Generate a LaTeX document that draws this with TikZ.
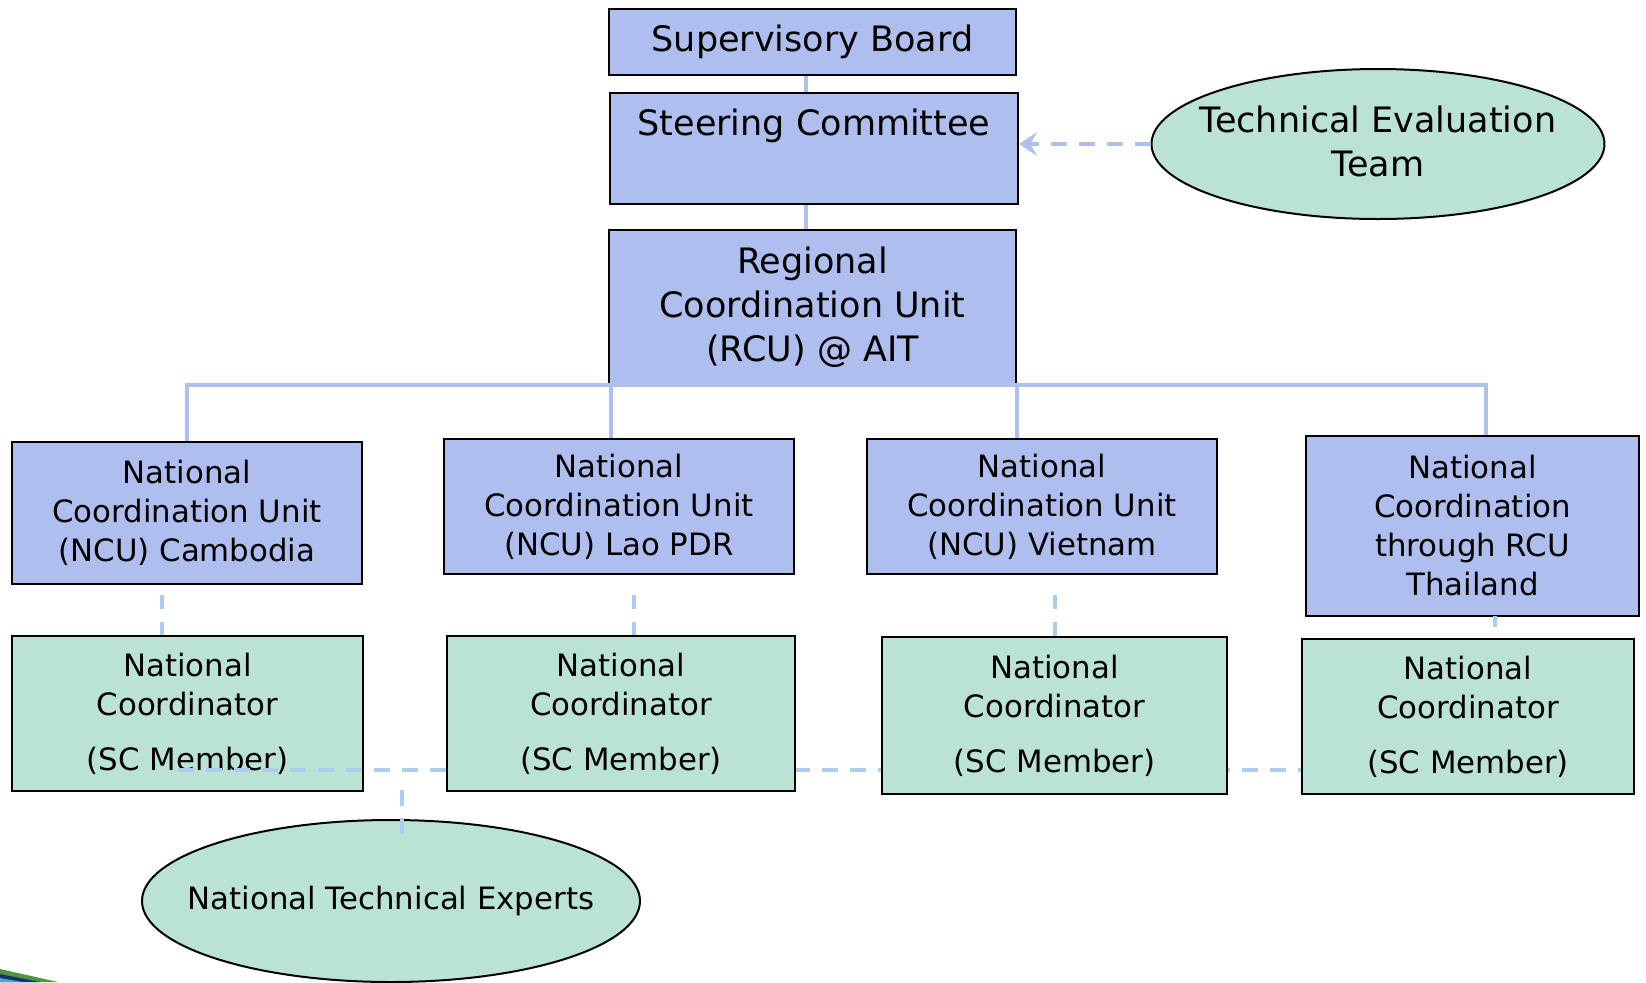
\documentclass[tikz,border=0pt]{standalone}
\usepackage{fontspec}
\setmainfont{DejaVu Sans}
\usetikzlibrary{shapes.geometric,arrows.meta}
\pgfdeclarelayer{background}
\pgfsetlayers{background,main}
\definecolor{boxblue}{RGB}{174,191,239}
\definecolor{boxgreen}{RGB}{186,227,214}
\definecolor{connblue}{RGB}{174,192,238}
\definecolor{dashblue}{RGB}{172,205,238}
\definecolor{swgreen}{RGB}{80,150,60}
\definecolor{swdark}{RGB}{20,50,110}
\definecolor{swlight}{RGB}{90,160,210}
\newcommand{\bigf}{\fontsize{17.5}{22}\selectfont}
\newcommand{\smf}{\fontsize{15.4}{19.5}\selectfont}
\tikzset{
  bluebox/.style={draw=black, line width=1.1pt, fill=boxblue, rectangle, inner sep=0pt, align=center},
  greenbox/.style={draw=black, line width=1.1pt, fill=boxgreen, rectangle, inner sep=0pt, align=center, font=\smf},
  greenell/.style={draw=black, line width=1pt, fill=boxgreen, ellipse, inner sep=0pt},
  conn/.style={draw=connblue, line width=1.8pt},
  dconn/.style={draw=dashblue, line width=1.6pt, dash pattern=on 7pt off 6.5pt},
  hdash/.style={draw=dashblue, line width=1.9pt, dash pattern=on 8pt off 6pt},
  arr/.style={draw=connblue, line width=2pt, dash pattern=on 8pt off 6pt, -{Stealth[length=9pt,width=12pt,inset=3.5pt]}},
}
\begin{document}
\begin{tikzpicture}[x=0.5pt,y=-0.5pt]
\useasboundingbox (0,0) rectangle (1646,982);
% top chain
\node[bluebox, font=\bigf, minimum width=203.5pt, minimum height=33pt] (sb) at (812.5,42) {Supervisory Board};
\node[bluebox, minimum width=204pt, minimum height=55.5pt,
      label={[font=\bigf, anchor=center, yshift=-17pt]north:Steering Committee}] (sc) at (814,148.5) {};
\node[bluebox, font=\bigf, minimum width=203.5pt, minimum height=77pt] (rcu) at (812.5,307) {Regional\\Coordination Unit\\(RCU) @ AIT};
\node[greenell, minimum width=226.5pt, minimum height=75pt,
      label={[font=\bigf, align=center, anchor=center, yshift=1.5pt]center:Technical Evaluation\\Team}] (tet) at (1378,144) {};
% national coordination units
\node[bluebox, font=\smf, minimum width=175pt, minimum height=71pt] (cam) at (187,513) {National\\Coordination Unit\\(NCU) Cambodia};
\node[bluebox, font=\smf, minimum width=175pt, minimum height=67.5pt] (lao) at (619,506.5) {National\\Coordination Unit\\(NCU) Lao PDR};
\node[bluebox, font=\smf, minimum width=175pt, minimum height=67.5pt] (vn) at (1042,506.5) {National\\Coordination Unit\\(NCU) Vietnam};
\node[bluebox, font=\smf, minimum width=166.5pt, minimum height=90pt] (th) at (1472.5,526) {National\\Coordination\\through RCU\\Thailand};
% national coordinators
\node[greenbox, minimum width=175.5pt, minimum height=77.5pt] (ncC) at (187.5,713.5) {National\\Coordinator\\[8pt](SC Member)};
\node[greenbox, minimum width=174pt, minimum height=77.5pt] (ncL) at (621,713.5) {National\\Coordinator\\[8pt](SC Member)};
\node[greenbox, minimum width=172.5pt, minimum height=78.5pt] (ncV) at (1054.5,715.5) {National\\Coordinator\\[8pt](SC Member)};
\node[greenbox, minimum width=166pt, minimum height=77.5pt] (ncT) at (1468,716.5) {National\\Coordinator\\[8pt](SC Member)};
\node[greenell, minimum width=249pt, minimum height=81pt,
      label={[font=\smf, anchor=center]center:National Technical Experts}] (nte) at (391,901) {};
% solid connectors
\draw[conn] ([xshift=-3.25pt]sb.south) -- ([xshift=-3.25pt]sb.south |- sc.north);
\draw[conn] ([xshift=-4pt]sc.south) -- ([xshift=-4pt]sc.south |- rcu.north);
\coordinate (busL) at (187,385);
\coordinate (busR) at (1486,385);
\draw[conn] (cam.north) -- (busL) -- (busR) -- (busR |- th.north);
\draw[conn] ([xshift=1.5pt]rcu.south west) -- ([xshift=1.5pt]rcu.south west |- lao.north);
\draw[conn] (rcu.south east) -- (rcu.south east |- vn.north);
% arrow from evaluation team
\draw[arr] (tet.west) -- (tet.west -| sc.east);
% dashed connectors NCU -> coordinators
\coordinate (dC) at (162,595);
\coordinate (dL) at (634,595);
\coordinate (dV) at (1055,595);
\coordinate (dT) at (1495,616);
\draw[dconn] (dC) -- (dC |- ncC.north);
\draw[dconn] (dL) -- (dL |- ncL.north);
\draw[dconn] (dV) -- (dV |- ncV.north);
\draw[dconn, dash pattern=on 5.5pt off 20pt] (dT) -- (dT |- ncT.north);
% dashed line linking coordinators
\coordinate (h0) at (178,770);
\begin{pgfonlayer}{background}
\draw[hdash] (h0) -- (h0 -| ncT.west);
\end{pgfonlayer}
\draw[hdash] (h0) -- (h0 -| ncC.east);
\coordinate (j0) at (402,790);
\coordinate (j1) at (402,834);
\draw[hdash, line width=1.6pt] (j0) -- (j1);
% corner swoosh
\fill[swgreen] (0,969) -- (58,982) -- (0,982) -- cycle;
\fill[swdark] (0,974) -- (40,982) -- (0,982) -- cycle;
\fill[swlight] (0,978) -- (22,982) -- (0,982) -- cycle;
\end{tikzpicture}
\end{document}
